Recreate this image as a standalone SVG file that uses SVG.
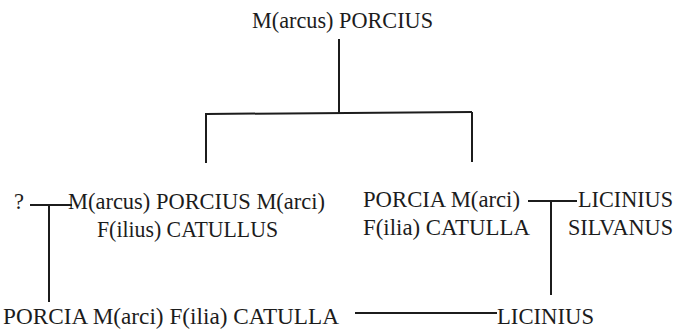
<svg xmlns="http://www.w3.org/2000/svg" width="677" height="331" viewBox="0 0 677 331">
<style>
.t{font-family:'Liberation Serif','Times New Roman','DejaVu Serif',serif;font-size:22.5px;fill:#1c1c1c}
.c{fill:none;stroke:#1c1c1c;stroke-width:2}
</style>
<rect width="677" height="331" fill="#fff"/>
<g id="connectors">
<line class="c" x1="339" y1="39" x2="339" y2="114"/>
<line class="c" x1="206" y1="114" x2="472" y2="112"/>
<line class="c" x1="206" y1="113" x2="206" y2="163"/>
<line class="c" x1="472" y1="112" x2="472" y2="162"/>
<line class="c" x1="30" y1="205" x2="72" y2="205"/>
<line class="c" x1="49" y1="205" x2="49" y2="302"/>
<line class="c" x1="528" y1="201" x2="577" y2="201"/>
<line class="c" x1="551" y1="201" x2="551" y2="295"/>
<line class="c" x1="355" y1="313" x2="497" y2="313"/>
</g>
<g id="marcus-porcius"><text class="t" x="252" y="28" textLength="181" lengthAdjust="spacingAndGlyphs">M(arcus) PORCIUS</text></g>
<g id="unknown"><text class="t" x="14" y="209">?</text></g>
<g id="marcus-porcius-catullus">
<text class="t" x="68" y="209" textLength="257" lengthAdjust="spacingAndGlyphs">M(arcus) PORCIUS M(arci)</text>
<text class="t" x="97" y="237" textLength="181" lengthAdjust="spacingAndGlyphs">F(ilius) CATULLUS</text>
</g>
<g id="porcia-catulla">
<text class="t" x="363" y="207" textLength="157" lengthAdjust="spacingAndGlyphs">PORCIA M(arci)</text>
<text class="t" x="363" y="235" textLength="167" lengthAdjust="spacingAndGlyphs">F(ilia) CATULLA</text>
</g>
<g id="licinius-silvanus">
<text class="t" x="578" y="207" textLength="95" lengthAdjust="spacingAndGlyphs">LICINIUS</text>
<text class="t" x="568" y="235" textLength="105" lengthAdjust="spacingAndGlyphs">SILVANUS</text>
</g>
<g id="porcia-catulla-daughter"><text class="t" x="3" y="324" textLength="336" lengthAdjust="spacingAndGlyphs">PORCIA M(arci) F(ilia) CATULLA</text></g>
<g id="licinius"><text class="t" x="497" y="324" textLength="97" lengthAdjust="spacingAndGlyphs">LICINIUS</text></g>
</svg>
